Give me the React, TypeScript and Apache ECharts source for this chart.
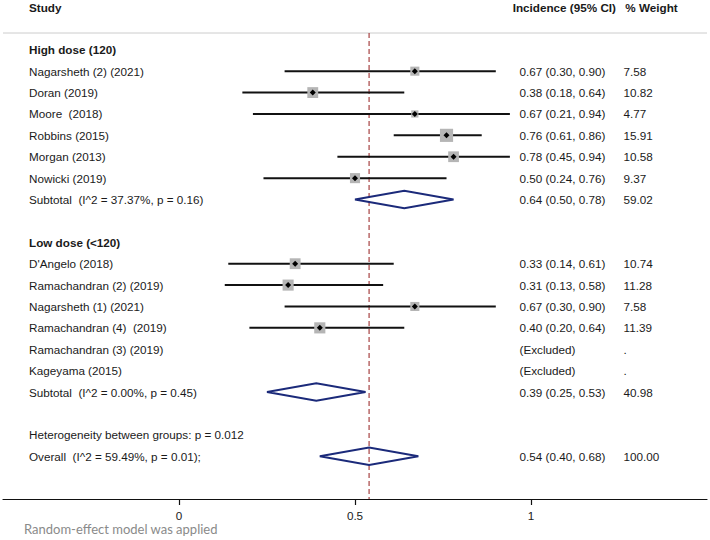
import React, { useEffect, useRef } from "react";
import * as echarts from "echarts";

// ---------- data ----------
const highStudies = [
  "Nagarsheth (2) (2021)",
  "Doran (2019)",
  "Moore  (2018)",
  "Robbins (2015)",
  "Morgan (2013)",
  "Nowicki (2019)",
];
const highEst = [0.67, 0.38, 0.67, 0.76, 0.78, 0.5];
const highLo = [0.3, 0.18, 0.21, 0.61, 0.45, 0.24];
const highHi = [0.9, 0.64, 0.94, 0.86, 0.94, 0.76];
const highWeight = [7.58, 10.82, 4.77, 15.91, 10.58, 9.37];
const highSubtotal = { label: "Subtotal  (I^2 = 37.37%, p = 0.16)", est: 0.64, lo: 0.5, hi: 0.78, weight: 59.02 };

const lowStudies = [
  "D'Angelo (2018)",
  "Ramachandran (2) (2019)",
  "Nagarsheth (1) (2021)",
  "Ramachandran (4)  (2019)",
  "Ramachandran (3) (2019)",
  "Kageyama (2015)",
];
const lowEst: (number | null)[] = [0.33, 0.31, 0.67, 0.4, null, null];
const lowLo: (number | null)[] = [0.14, 0.13, 0.3, 0.2, null, null];
const lowHi: (number | null)[] = [0.61, 0.58, 0.9, 0.64, null, null];
const lowWeight: (number | null)[] = [10.74, 11.28, 7.58, 11.39, null, null];
const lowSubtotal = { label: "Subtotal  (I^2 = 0.00%, p = 0.45)", est: 0.39, lo: 0.25, hi: 0.53, weight: 40.98 };

const heterogeneityText = "Heterogeneity between groups: p = 0.012";
const overall = { label: "Overall  (I^2 = 59.49%, p = 0.01);", est: 0.54, lo: 0.4, hi: 0.68, weight: 100.0 };

const xTicks = [0, 0.5, 1];
const footnote = "Random-effect model was applied";

// ---------- layout ----------
const FONT = "'Liberation Sans', Arial, sans-serif";
const FS = 11.7;
const TEXT_COLOR = "#1a1a1a";
const X_STUDY = 29;
const X_CI = 519.5;
const X_W = 623.5;
const X_CI_HEAD = 512.7;
const X_W_HEAD = 625.3;
const ROWS = 23;
const SEP_ROW = 1.215;

type Row = {
  row: number;
  label: string;
  bold?: boolean;
  kind: "study" | "diamond" | "text" | "excluded";
  est?: number;
  lo?: number;
  hi?: number;
  weight?: number;
};

function fmt(v: number) {
  return v.toFixed(2);
}

const rows: Row[] = [];
rows.push({ row: 2, label: "High dose (120)", bold: true, kind: "text" });
highStudies.forEach((s, i) =>
  rows.push({ row: 3 + i, label: s, kind: "study", est: highEst[i], lo: highLo[i], hi: highHi[i], weight: highWeight[i] })
);
rows.push({ row: 9, label: highSubtotal.label, kind: "diamond", est: highSubtotal.est, lo: highSubtotal.lo, hi: highSubtotal.hi, weight: highSubtotal.weight });
rows.push({ row: 11, label: "Low dose (<120)", bold: true, kind: "text" });
lowStudies.forEach((s, i) => {
  if (lowEst[i] == null) rows.push({ row: 12 + i, label: s, kind: "excluded" });
  else rows.push({ row: 12 + i, label: s, kind: "study", est: lowEst[i] as number, lo: lowLo[i] as number, hi: lowHi[i] as number, weight: lowWeight[i] as number });
});
rows.push({ row: 18, label: lowSubtotal.label, kind: "diamond", est: lowSubtotal.est, lo: lowSubtotal.lo, hi: lowSubtotal.hi, weight: lowSubtotal.weight });
rows.push({ row: 20, label: heterogeneityText, kind: "text" });
rows.push({ row: 21, label: overall.label, kind: "diamond", est: overall.est, lo: overall.lo, hi: overall.hi, weight: overall.weight });

const studyRows = rows.filter((r) => r.kind === "study");
const diamondRows = rows.filter((r) => r.kind === "diamond");

export default function App() {
  const ref = useRef<HTMLDivElement>(null);
  useEffect(() => {
    if (!ref.current) return;
    const chart = echarts.init(ref.current, undefined, { renderer: "svg" });

    const textStyle = (bold?: boolean) => ({
      fill: TEXT_COLOR,
      font: `${bold ? "bold " : ""}${FS}px ${FONT}`,
      verticalAlign: "middle" as const,
      align: "left" as const,
    });

    const option: any = {
      animation: false,
      grid: { left: 3, right: 3, top: 7, bottom: 41 },
      xAxis: {
        type: "value",
        position: "bottom",
        min: -0.5,
        max: 1.5,
        splitLine: { show: false },
        axisLine: { show: true, onZero: false, lineStyle: { color: "#111", width: 1.2 } },
        axisTick: { show: true, customValues: xTicks, length: 6, lineStyle: { color: "#111", width: 1.2 } },
        axisLabel: {
          customValues: xTicks,
          color: TEXT_COLOR,
          fontSize: FS,
          fontFamily: FONT,
          margin: 10,
          formatter: (v: number) => String(v),
        },
      },
      yAxis: { type: "value", min: 0, max: ROWS, inverse: true, show: false },
      graphic: [
        { type: "line", shape: { x1: 3, y1: 33, x2: 707, y2: 33 }, style: { stroke: "#cccccc", lineWidth: 1 } },
        { type: "text", x: X_STUDY, y: 7, style: { text: "Study", ...textStyle(true) } },
        { type: "text", x: X_CI_HEAD, y: 7, style: { text: "Incidence (95% CI)", ...textStyle(true) } },
        { type: "text", x: X_W_HEAD, y: 7, style: { text: "% Weight", ...textStyle(true) } },
        {
          type: "text",
          x: 24,
          y: 529,
          style: { text: footnote, fill: "#8a8a8a", font: `13px Lato, 'Open Sans', sans-serif`, verticalAlign: "middle" },
        },
      ],
      series: [
        {
          type: "line",
          data: [
            [overall.est, SEP_ROW],
            [overall.est, ROWS],
          ],
          symbol: "none",
          silent: true,
          lineStyle: { color: "#9e3030", width: 1.1, type: [5, 3] },
          z: 1,
        },
        {
          type: "custom",
          z: 3,
          data: studyRows.map((r) => [r.est, r.lo, r.hi, r.weight, r.row]),
          renderItem: (params: any, api: any) => {
            const est = api.value(0), lo = api.value(1), hi = api.value(2), w = api.value(3), row = api.value(4);
            const pE = api.coord([est, row]);
            const pL = api.coord([lo, row]);
            const pH = api.coord([hi, row]);
            const side = 3.3 * Math.sqrt(w);
            const d = 3;
            return {
              type: "group",
              children: [
                { type: "line", shape: { x1: pL[0], y1: pL[1], x2: pH[0], y2: pH[1] }, style: { stroke: "#111", lineWidth: 2 } },
                { type: "rect", shape: { x: pE[0] - side / 2, y: pE[1] - side / 2, width: side, height: side }, style: { fill: "#b5b5b5" } },
                {
                  type: "polygon",
                  shape: { points: [[pE[0], pE[1] - d], [pE[0] + d, pE[1]], [pE[0], pE[1] + d], [pE[0] - d, pE[1]]] },
                  style: { fill: "#000" },
                },
              ],
            };
          },
        },
        {
          type: "custom",
          z: 3,
          data: diamondRows.map((r) => [r.est, r.lo, r.hi, r.row]),
          renderItem: (params: any, api: any) => {
            const est = api.value(0), lo = api.value(1), hi = api.value(2), row = api.value(3);
            const pE = api.coord([est, row]);
            const pL = api.coord([lo, row]);
            const pH = api.coord([hi, row]);
            const h = 8.7;
            return {
              type: "polygon",
              shape: { points: [[pL[0], pL[1]], [pE[0], pE[1] - h], [pH[0], pH[1]], [pE[0], pE[1] + h]] },
              style: { fill: "rgba(255,255,255,0)", stroke: "#1b2a7a", lineWidth: 2, lineJoin: "miter" },
            };
          },
        },
        {
          type: "custom",
          z: 4,
          silent: true,
          data: rows.map((r, i) => [0, r.row, i]),
          renderItem: (params: any, api: any) => {
            const r = rows[api.value(2)];
            const y = api.coord([0, r.row])[1];
            const children: any[] = [
              { type: "text", x: X_STUDY, y, style: { text: r.label, ...textStyle(r.bold) } },
            ];
            if (r.kind === "study" || r.kind === "diamond") {
              children.push({ type: "text", x: X_CI, y, style: { text: `${fmt(r.est!)} (${fmt(r.lo!)}, ${fmt(r.hi!)})`, ...textStyle() } });
              children.push({ type: "text", x: X_W, y, style: { text: fmt(r.weight!), ...textStyle() } });
            } else if (r.kind === "excluded") {
              children.push({ type: "text", x: X_CI, y, style: { text: "(Excluded)", ...textStyle() } });
              children.push({ type: "text", x: X_W, y, style: { text: ".", ...textStyle() } });
            }
            return { type: "group", children };
          },
        },
      ],
    };
    chart.setOption(option);
    return () => chart.dispose();
  }, []);
  return <div ref={ref} style={{ width: 710, height: 540, position: "absolute", left: 0, top: 0, background: "#fff" }} />;
}
